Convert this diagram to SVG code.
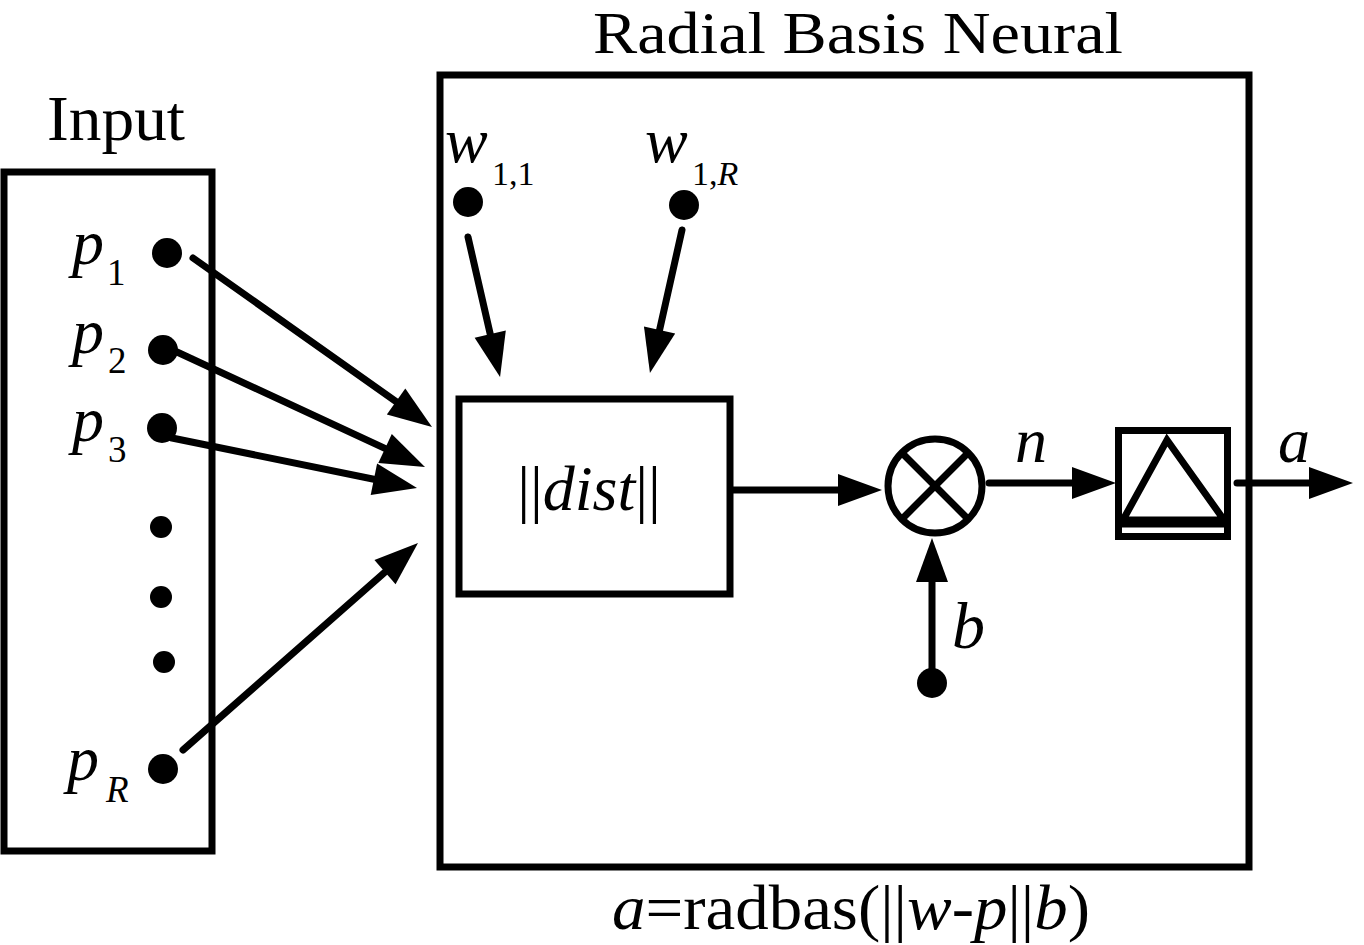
<svg xmlns="http://www.w3.org/2000/svg" width="1364" height="945" viewBox="0 0 1364 945">
<style>
.box{fill:none;stroke:#000;stroke-width:7}
.ln{fill:none;stroke:#000;stroke-width:7;stroke-linecap:round}
.dot{fill:#000}
text{font-family:"Liberation Serif","Times New Roman",serif;fill:#000}
.it{font-style:italic}
</style>
<defs>
<marker id="ah" markerUnits="userSpaceOnUse" markerWidth="46" markerHeight="34" refX="20" refY="16" orient="auto" viewBox="0 0 46 34" overflow="visible">
<path d="M0,0 L44,16 L0,32 z" fill="#000"/>
</marker>
</defs>
<rect width="1364" height="945" fill="#fff"/>

<g id="input">
<text x="47" y="140" font-size="64" textLength="138" lengthAdjust="spacingAndGlyphs">Input</text>
<rect class="box" x="4" y="172" width="208" height="679"/>
<circle class="dot" cx="167" cy="253" r="15"/>
<circle class="dot" cx="163" cy="350" r="15"/>
<circle class="dot" cx="162" cy="428" r="15"/>
<circle class="dot" cx="161" cy="527" r="11"/>
<circle class="dot" cx="161" cy="597" r="11"/>
<circle class="dot" cx="164" cy="662" r="11"/>
<circle class="dot" cx="163" cy="769" r="15"/>
<text x="72" y="264" font-size="64" class="it">p</text><text x="107" y="285" font-size="37">1</text>
<text x="72" y="353" font-size="64" class="it">p</text><text x="108" y="373" font-size="37">2</text>
<text x="72" y="441" font-size="64" class="it">p</text><text x="108" y="462" font-size="37">3</text>
<text x="67" y="780" font-size="64" class="it">p</text><text x="106" y="802" font-size="37" class="it">R</text>
</g>

<g id="layer">
<text x="593" y="53" font-size="59" textLength="530" lengthAdjust="spacingAndGlyphs">Radial Basis Neural</text>
<rect class="box" x="440" y="75" width="809" height="792"/>
<text x="612" y="929" font-size="63" textLength="478" lengthAdjust="spacingAndGlyphs"><tspan class="it">a</tspan>=radbas(||<tspan class="it">w</tspan>-<tspan class="it">p</tspan>||<tspan class="it">b</tspan>)</text>
</g>

<g id="w11">
<circle class="dot" cx="468" cy="202" r="15"/>
<text x="445" y="162" font-size="64" class="it">w</text><text x="492" y="185" font-size="34">1,1</text>
</g>
<g id="w1R">
<circle class="dot" cx="684" cy="205" r="15"/>
<text x="645" y="162" font-size="64" class="it">w</text><text x="692" y="185" font-size="34">1,<tspan class="it">R</tspan></text>
</g>

<g id="dist">
<rect class="box" x="459" y="399" width="271" height="195"/>
<text x="589" y="510" font-size="64" text-anchor="middle">||<tspan class="it">dist</tspan>||</text>
</g>

<g id="product">
<circle class="box" cx="935" cy="486" r="47"/>
<line class="box" x1="901.8" y1="452.8" x2="968.2" y2="519.2"/>
<line class="box" x1="968.2" y1="452.8" x2="901.8" y2="519.2"/>
</g>

<g id="bias">
<circle class="dot" cx="932" cy="683" r="15"/>
<text x="952" y="648" font-size="66" class="it">b</text>
</g>

<g id="radbas">
<rect class="box" x="1118.5" y="430.5" width="109" height="106"/>
<line class="box" x1="1118.5" y1="524" x2="1227.5" y2="524"/>
<path class="box" d="M1123,520 L1167,440 L1224,520 Z" stroke-linejoin="miter"/>
</g>

<g id="labels">
<text x="1015" y="462" font-size="64" class="it">n</text>
<text x="1278" y="462" font-size="64" class="it">a</text>
</g>

<g id="connectors">
<line class="ln" x1="193" y1="258" x2="412.4" y2="413.1" marker-end="url(#ah)"/>
<line class="ln" x1="177" y1="352" x2="403.2" y2="456.9" marker-end="url(#ah)"/>
<line class="ln" x1="172" y1="438" x2="393.5" y2="483.2" marker-end="url(#ah)"/>
<line class="ln" x1="183" y1="750" x2="400" y2="558.9" marker-end="url(#ah)"/>
<line class="ln" x1="468" y1="237" x2="494.7" y2="353.6" marker-end="url(#ah)"/>
<line class="ln" x1="682" y1="230" x2="655.2" y2="349.6" marker-end="url(#ah)"/>
<line class="ln" x1="733" y1="490" x2="858" y2="490" marker-end="url(#ah)"/>
<line class="ln" x1="932" y1="683" x2="932" y2="562" marker-end="url(#ah)"/>
<line class="ln" x1="989" y1="483" x2="1092" y2="483" marker-end="url(#ah)"/>
<line class="ln" x1="1237" y1="483" x2="1329" y2="483" marker-end="url(#ah)"/>
</g>
</svg>
